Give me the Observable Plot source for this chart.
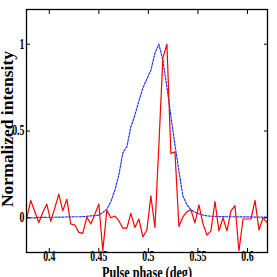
<!DOCTYPE html>
<html><head><meta charset="utf-8">
<script src="https://cdn.jsdelivr.net/npm/d3@7"></script>
<script src="https://cdn.jsdelivr.net/npm/@observablehq/plot@0.6"></script>
<style>body{margin:0;background:#fff}</style>
</head><body><div id="chart"></div>
<script>
const phase = [0.3773,0.3813,0.3854,0.3894,0.3934,0.3975,0.4015,0.4056,0.4096,0.4136,
  0.4177,0.4217,0.4258,0.4298,0.4338,0.4379,0.4419,0.4460,0.4500,0.4540,
  0.4581,0.4621,0.4662,0.4702,0.4742,0.4783,0.4823,0.4864,0.4904,0.4944,
  0.4985,0.5025,0.5066,0.5106,0.5146,0.5187,0.5227,0.5268,0.5308,0.5348,
  0.5389,0.5429,0.5470,0.5510,0.5551,0.5591,0.5631,0.5672,0.5712,0.5753,
  0.5793,0.5833,0.5874,0.5914,0.5955,0.5995,0.6035,0.6076,0.6116,0.6157,0.6197];
const observed = [0.00,0.10,0.035,-0.027,0.03,0.079,-0.021,0.057,0.136,0.040,
  0.107,-0.036,-0.042,-0.084,-0.090,0.005,-0.036,0.02,0.079,-0.19,
  0.044,0.0,0.01,-0.017,-0.06,-0.06,0.025,-0.056,-0.007,-0.11,
  -0.07,0.126,-0.056,0.42,0.92,1.0,0.37,0.38,-0.05,0.005,
  0.035,0.046,-0.03,0.075,-0.035,-0.10,-0.075,0.094,-0.075,0.0,
  -0.075,0.04,0.07,-0.19,-0.007,-0.007,-0.007,0.10,-0.07,0.0,-0.027];
const model = [0.0,0.0,0.0,0.002,0.002,0.003,0.003,0.003,0.004,0.004,
  0.005,0.005,0.006,0.006,0.007,0.008,0.011,0.013,0.016,0.03,
  0.05,0.092,0.16,0.247,0.374,0.41,0.523,0.592,0.672,0.747,
  0.80,0.85,0.948,1.0,0.908,0.753,0.586,0.42,0.27,0.126,
  0.075,0.046,0.032,0.023,0.016,0.011,0.009,0.008,0.007,0.007,
  0.006,0.006,0.006,0.005,0.005,0.005,0.005,0.004,0.004,0.004,0.004];
const xTicks = [0.4,0.45,0.5,0.55,0.6];
const xTickLabels = ["0.4","0.45","0.5","0.55","0.6"];
const yTicks = [0,0.5,1];
const yTickLabels = ["0","0.5","1"];
const xLabel = "Pulse phase (deg)";
const yLabel = "Normalized intensity";

const modelData = phase.map((p,i)=>({p, v: model[i]}));
const obsData = phase.map((p,i)=>({p, v: observed[i]}));

const chart = Plot.plot({
  width: 277, height: 277,
  marginLeft: 26, marginRight: 10, marginTop: 9, marginBottom: 25,
  style: {fontFamily: "'Liberation Serif', 'Times New Roman', serif", fontWeight: "bold", fontSize: "14px", color: "#000", background: "#fff", overflow: "visible"},
  x: {domain: [0.377, 0.6202]},
  y: {domain: [-0.2, 1.2]},
  marks: [
    Plot.line(modelData, {x: "p", y: "v", stroke: "#2233ff", strokeWidth: 1.2, strokeDasharray: "2,1.5", clip: true}),
    Plot.line(obsData, {x: "p", y: "v", stroke: "#ff0000", strokeWidth: 1.2, clip: true}),
    Plot.axisX({anchor: "bottom", ticks: xTicks, tickFormat: d => xTickLabels[xTicks.indexOf(d)], tickSize: -4, tickPadding: 3, label: null}),
    Plot.axisX({anchor: "top", ticks: xTicks, tickFormat: () => "", tickSize: -4, label: null}),
    Plot.axisY({anchor: "left", ticks: yTicks, tickFormat: d => yTickLabels[yTicks.indexOf(d)], tickSize: -4, tickPadding: 6, label: null}),
    Plot.axisY({anchor: "right", ticks: yTicks, tickFormat: () => "", tickSize: -4, label: null}),
    Plot.frame({stroke: "#000", strokeWidth: 1.3}),
    Plot.text([xLabel], {text: d => d, frameAnchor: "bottom", textAnchor: "middle", dx: 0, dy: 13, lineAnchor: "top", fontSize: 17.5, fontWeight: "bold"}),
    Plot.text([yLabel], {text: d => d, frameAnchor: "left", textAnchor: "middle", rotate: -90, dx: -26, dy: -2, lineAnchor: "top", fontSize: 17.5, fontWeight: "bold"})
  ]
});
document.getElementById("chart").appendChild(chart);

// horizontally condensed lettering as in the reference
d3.select(chart).selectAll('g[aria-label="x-axis tick label"] text, g[aria-label="y-axis tick label"] text').each(function() {
  const w = this.getComputedTextLength();
  if (w > 0) { this.setAttribute("textLength", (w * 0.7).toFixed(1)); this.setAttribute("lengthAdjust", "spacingAndGlyphs"); }
});
d3.select(chart).selectAll('g[aria-label="text"] text').each(function() {
  if (this.textContent === xLabel) { this.setAttribute("textLength", "90"); this.setAttribute("lengthAdjust", "spacingAndGlyphs"); }
});
</script>
</body></html>
